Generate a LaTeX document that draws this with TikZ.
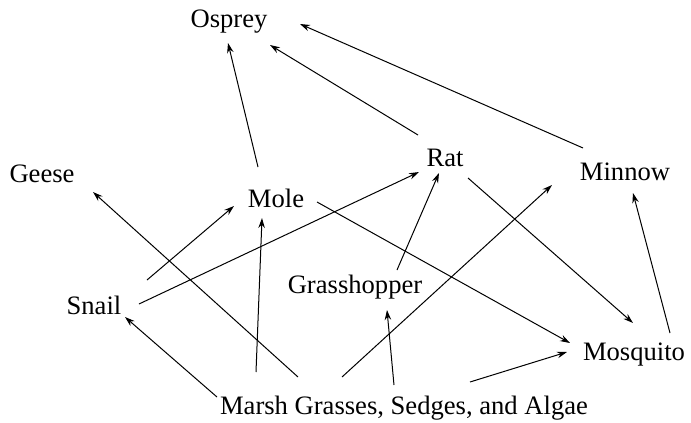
\documentclass[tikz,border=0pt]{standalone}
\usepackage{fontspec}
\setmainfont{Liberation Serif}
\usetikzlibrary{arrows.meta, calc}

\begin{document}
\begin{tikzpicture}[x=1pt, y=-1pt,
    species/.style={font=\fontsize{26.6}{30}\selectfont, inner sep=0pt},
    eats/.style={-{Stealth[length=10pt, width=6.5pt]}, line width=1pt}]
\useasboundingbox (0,0) rectangle (691,423);

% Species
\node[species] (osprey) at (229,22) {Osprey};
\node[species] (geese) at (42,174) {Geese};
\node[species] (mole) at (276,198) {Mole};
\node[species] (rat) at (445,158) {Rat};
\node[species] (minnow) at (625,172) {Minnow};
\node[species] (grasshopper) at (355,287) {Grasshopper};
\node[species] (snail) at (94,305) {Snail};
\node[species] (mosquito) at (634,355) {Mosquito};
\node[species] (marsh) at (404,408) {Marsh Grasses, Sedges, and Algae};

% Top predators
\draw[eats] ($(mole)+(-18,-31)$) -- ($(osprey)+(-1,21)$);
\draw[eats] ($(rat)+(-27,-23)$) -- ($(osprey)+(41,23)$);
\draw[eats] ($(minnow)+(-42,-24)$) -- ($(osprey)+(71,2)$);

% Middle of the web
\draw[eats] ($(snail)+(53,-25)$) -- ($(mole)+(-42,8)$);
\draw[eats] ($(snail)+(45,-1)$) -- ($(rat)+(-26,14)$);
\draw[eats] ($(grasshopper)+(42,-17)$) -- ($(rat)+(-6,15)$);
\draw[eats] ($(mole)+(41,4)$) -- ($(mosquito)+(-64,-12)$);
\draw[eats] ($(rat)+(23,20)$) -- ($(mosquito)+(-1,-32)$);
\draw[eats] ($(mosquito)+(36,-22)$) -- ($(minnow)+(8,21)$);

% From the plants
\draw[eats] ($(marsh)+(-106,-31)$) -- ($(geese)+(51,18)$);
\draw[eats] ($(marsh)+(-148,-36)$) -- ($(mole)+(-14,20)$);
\draw[eats] ($(marsh)+(-187,-11)$) -- ($(snail)+(31,12)$);
\draw[eats] ($(marsh)+(-10,-23)$) -- ($(grasshopper)+(32,23)$);
\draw[eats] ($(marsh)+(-62,-31)$) -- ($(minnow)+(-73,13)$);
\draw[eats] ($(marsh)+(66,-26)$) -- ($(mosquito)+(-67,-3)$);
\end{tikzpicture}
\end{document}
